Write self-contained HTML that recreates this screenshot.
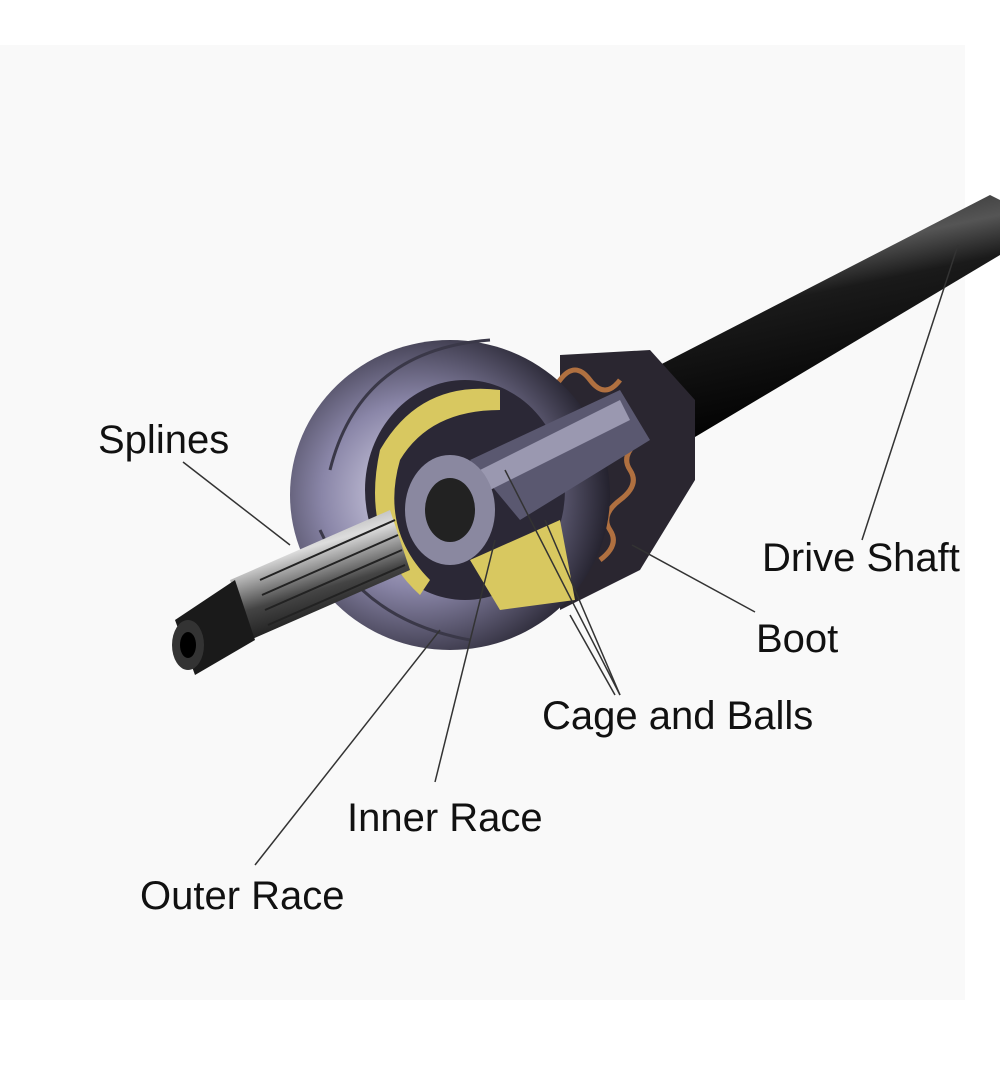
<!DOCTYPE html>
<html><head><meta charset="utf-8"><style>
html,body{margin:0;padding:0;background:#fff}
svg{display:block}
text{font-family:"Liberation Sans",Arial,sans-serif;font-size:40px;fill:#111}
</style></head><body>
<svg width="1000" height="1082" viewBox="0 0 1000 1082" xmlns="http://www.w3.org/2000/svg">
<defs>
<linearGradient id="shaft" x1="0" y1="0" x2="0.3" y2="1">
<stop offset="0" stop-color="#111"/><stop offset="0.35" stop-color="#555"/><stop offset="0.5" stop-color="#1a1a1a"/><stop offset="1" stop-color="#000"/></linearGradient>
<radialGradient id="bell" cx="0.4" cy="0.5" r="0.6">
<stop offset="0" stop-color="#e0def0"/><stop offset="0.5" stop-color="#8a86a8"/><stop offset="1" stop-color="#24222e"/></radialGradient>
<linearGradient id="spl" x1="0" y1="0" x2="0.4" y2="1">
<stop offset="0" stop-color="#777"/><stop offset="0.4" stop-color="#ddd"/><stop offset="0.7" stop-color="#444"/><stop offset="1" stop-color="#111"/></linearGradient>
</defs>
<rect width="1000" height="1082" fill="#fff"/>
<rect x="0" y="45" width="965" height="955" fill="#f9f9f9"/>
<polygon points="650,370 990,195 1000,200 1000,255 690,440" fill="url(#shaft)"/>
<path d="M560,355 L650,350 L695,400 L695,480 L640,570 L560,610 Z" fill="#2a2630"/>
<path d="M500,380 q15,-20 30,0 q15,20 30,0 q15,-20 30,0 q15,20 30,0" stroke="#b07040" stroke-width="5" fill="none"/>
<path d="M600,560 q20,-15 10,-30 q-10,-15 10,-30 q20,-15 10,-30 q-10,-15 10,-30" stroke="#b07040" stroke-width="5" fill="none"/>
<ellipse cx="450" cy="495" rx="160" ry="155" fill="url(#bell)"/>
<path d="M330,470 q30,-120 160,-130 M320,530 q40,90 150,110" stroke="#3a3848" stroke-width="3" fill="none"/>
<ellipse cx="465" cy="490" rx="100" ry="110" fill="#2b2836"/>
<path d="M380,450 Q420,380 500,390 L500,410 Q430,410 400,460 Q380,530 430,580 L420,595 Q360,540 380,450Z" fill="#d8c860"/>
<path d="M470,560 L560,520 L575,600 L500,610 Z" fill="#d8c860"/>
<polygon points="470,460 620,390 650,440 520,520" fill="#5a5870"/>
<polygon points="480,470 620,400 630,420 490,490" fill="#9a98b0"/>
<ellipse cx="450" cy="510" rx="45" ry="55" fill="#8a88a0"/>
<ellipse cx="450" cy="510" rx="25" ry="32" fill="#222"/>
<polygon points="230,580 390,510 410,570 250,640" fill="url(#spl)"/>
<g stroke="#222" stroke-width="2">
<line x1="260" y1="580" x2="395" y2="520"/><line x1="262" y1="595" x2="398" y2="535"/><line x1="265" y1="610" x2="402" y2="550"/><line x1="268" y1="625" x2="405" y2="565"/></g>
<polygon points="175,620 235,580 255,640 195,675" fill="#1a1a1a"/>
<ellipse cx="188" cy="645" rx="16" ry="25" fill="#333"/>
<ellipse cx="188" cy="645" rx="8" ry="13" fill="#000"/>
<g stroke="#333" stroke-width="1.5" fill="none">
<line x1="183" y1="462" x2="290" y2="545"/>
<line x1="862" y1="540" x2="958" y2="245"/>
<line x1="755" y1="612" x2="632" y2="545"/>
<line x1="620" y1="695" x2="545" y2="520"/>
<line x1="620" y1="695" x2="505" y2="470"/>
<line x1="615" y1="695" x2="570" y2="615"/>
<line x1="435" y1="782" x2="495" y2="540"/>
<line x1="255" y1="865" x2="440" y2="630"/>
</g>
<text x="98" y="453">Splines</text>
<text x="762" y="571">Drive Shaft</text>
<text x="756" y="652">Boot</text>
<text x="542" y="729">Cage and Balls</text>
<text x="347" y="831">Inner Race</text>
<text x="140" y="909">Outer Race</text>
</svg>
</body></html>
